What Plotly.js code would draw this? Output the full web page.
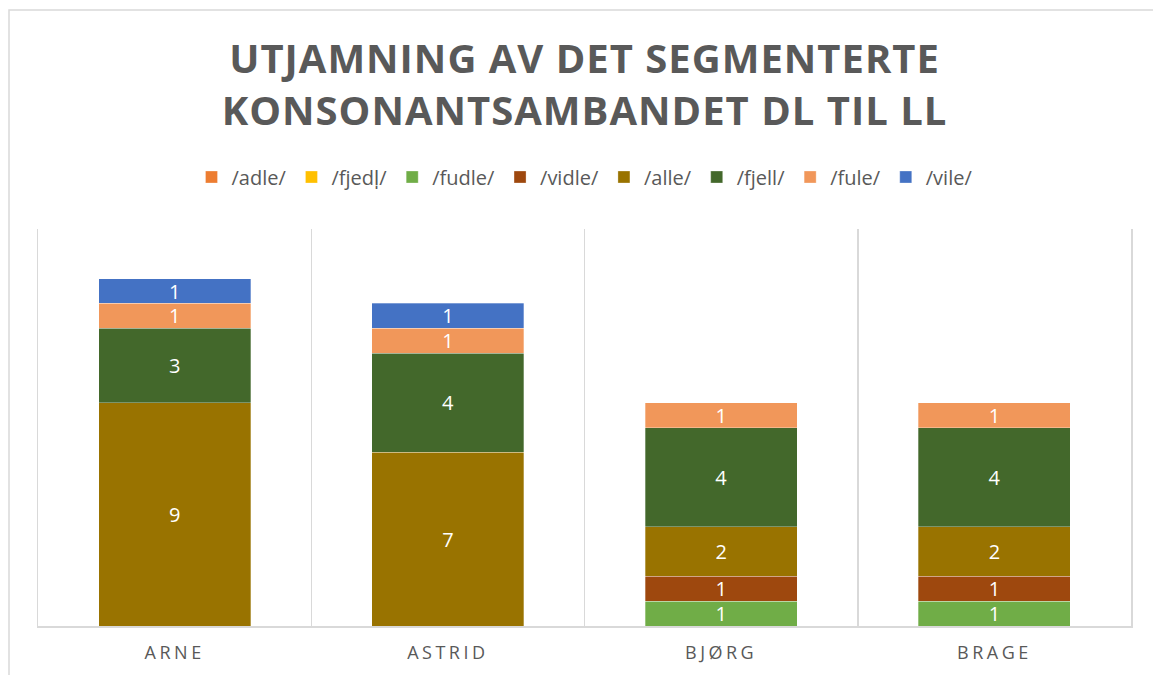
<!DOCTYPE html>
<html>
<head>
<meta charset="utf-8">
<script src="https://cdn.plot.ly/plotly-3.0.1.min.js"></script>
<style>
  html, body { margin: 0; padding: 0; background: #fff; }
  #chart { width: 1153px; height: 675px; }
  .gtitle { letter-spacing: 1.0px; }
  .xtick text { letter-spacing: 3.5px; }
</style>
</head>
<body>
<div id="chart"></div>
<script>
// Categories (speakers)
const categories = ["ARNE", "ASTRID", "BJØRG", "BRAGE"];

// Series names (legend labels)
const seriesNames = ["/adle/", "/fjedl̩/", "/fudle/", "/vidle/", "/alle/", "/fjell/", "/fule/", "/vile/"];

// Series values per category
const adle  = [0, 0, 0, 0];
const fjedl = [0, 0, 0, 0];
const fudle = [0, 0, 1, 1];
const vidle = [0, 0, 1, 1];
const alle  = [9, 7, 2, 2];
const fjell = [3, 4, 4, 4];
const fule  = [1, 1, 1, 1];
const vile  = [1, 1, 0, 0];

const seriesValues = [adle, fjedl, fudle, vidle, alle, fjell, fule, vile];
const seriesColors = ["#ED7D31", "#FFC000", "#70AD47", "#9E480E", "#997300", "#43682B", "#F1975A", "#4472C4"];

const FONT = "Open Sans, Noto Sans, sans-serif";

const traces = seriesNames.map((name, i) => {
  const ys = seriesValues[i].map(v => v === 0 ? null : v);
  return {
    type: "bar",
    name: name,
    x: categories,
    y: ys,
    text: ys.map(v => v === null ? "" : String(v)),
    textposition: "inside",
    insidetextanchor: "middle",
    textangle: 0,
    constraintext: "none",
    textfont: { color: "#FFFFFF", size: 20, family: FONT },
    marker: { color: seriesColors[i], line: { color: "rgba(255,255,255,0.5)", width: 0.6 } },
    hoverinfo: "x+y+name",
    cliponaxis: false
  };
});

const plotL = 38, plotR = 1131, plotT = 229, plotB = 626;
const W = 1153, H = 675;
const pw = plotR - plotL, ph = plotB - plotT;

const layout = {
  width: W,
  height: H,
  paper_bgcolor: "#FFFFFF",
  plot_bgcolor: "#FFFFFF",
  margin: { l: plotL, r: W - plotR, t: plotT, b: H - plotB, pad: 0 },
  barmode: "stack",
  bargap: 0.443,
  showlegend: true,
  uniformtext: { mode: false },
  title: {
    text: "UTJAMNING AV DET SEGMENTERTE<br>KONSONANTSAMBANDET DL TIL LL",
    font: { family: FONT, size: 40, color: "#595959", weight: 700 },
    x: 0.5,
    xanchor: "center",
    y: 1 - 73 / H,
    yanchor: "middle",
    xref: "paper"
  },
  legend: {
    orientation: "h",
    x: 0.5,
    xanchor: "center",
    y: (plotB - 177) / ph,
    yanchor: "middle",
    traceorder: "normal",
    font: { family: FONT, size: 20, color: "#595959" },
    itemwidth: 30
  },
  xaxis: {
    type: "category",
    tickson: "boundaries",
    showgrid: true,
    gridcolor: "#D9D9D9",
    gridwidth: 1.5,
    showline: true,
    linecolor: "#D9D9D9",
    linewidth: 1.5,
    ticks: "",
    tickfont: { family: FONT, size: 18, color: "#595959" },
    ticklabelstandoff: 10,
    fixedrange: true
  },
  yaxis: {
    range: [0, 16],
    showgrid: false,
    zeroline: false,
    showticklabels: false,
    showline: true,
    mirror: true,
    linecolor: "#D9D9D9",
    linewidth: 1.5,
    ticks: "",
    fixedrange: true
  },
  shapes: [
    {
      type: "rect",
      xref: "paper", yref: "paper",
      x0: (9 - plotL) / pw, x1: (W + 20 - plotL) / pw,
      y0: (plotB - (H + 20)) / ph, y1: (plotB - 10) / ph,
      line: { color: "#D9D9D9", width: 1.5 },
      fillcolor: "rgba(0,0,0,0)",
      layer: "below"
    }
  ]
};

Plotly.newPlot("chart", traces, layout, { displayModeBar: false, staticPlot: true });
</script>
</body>
</html>
